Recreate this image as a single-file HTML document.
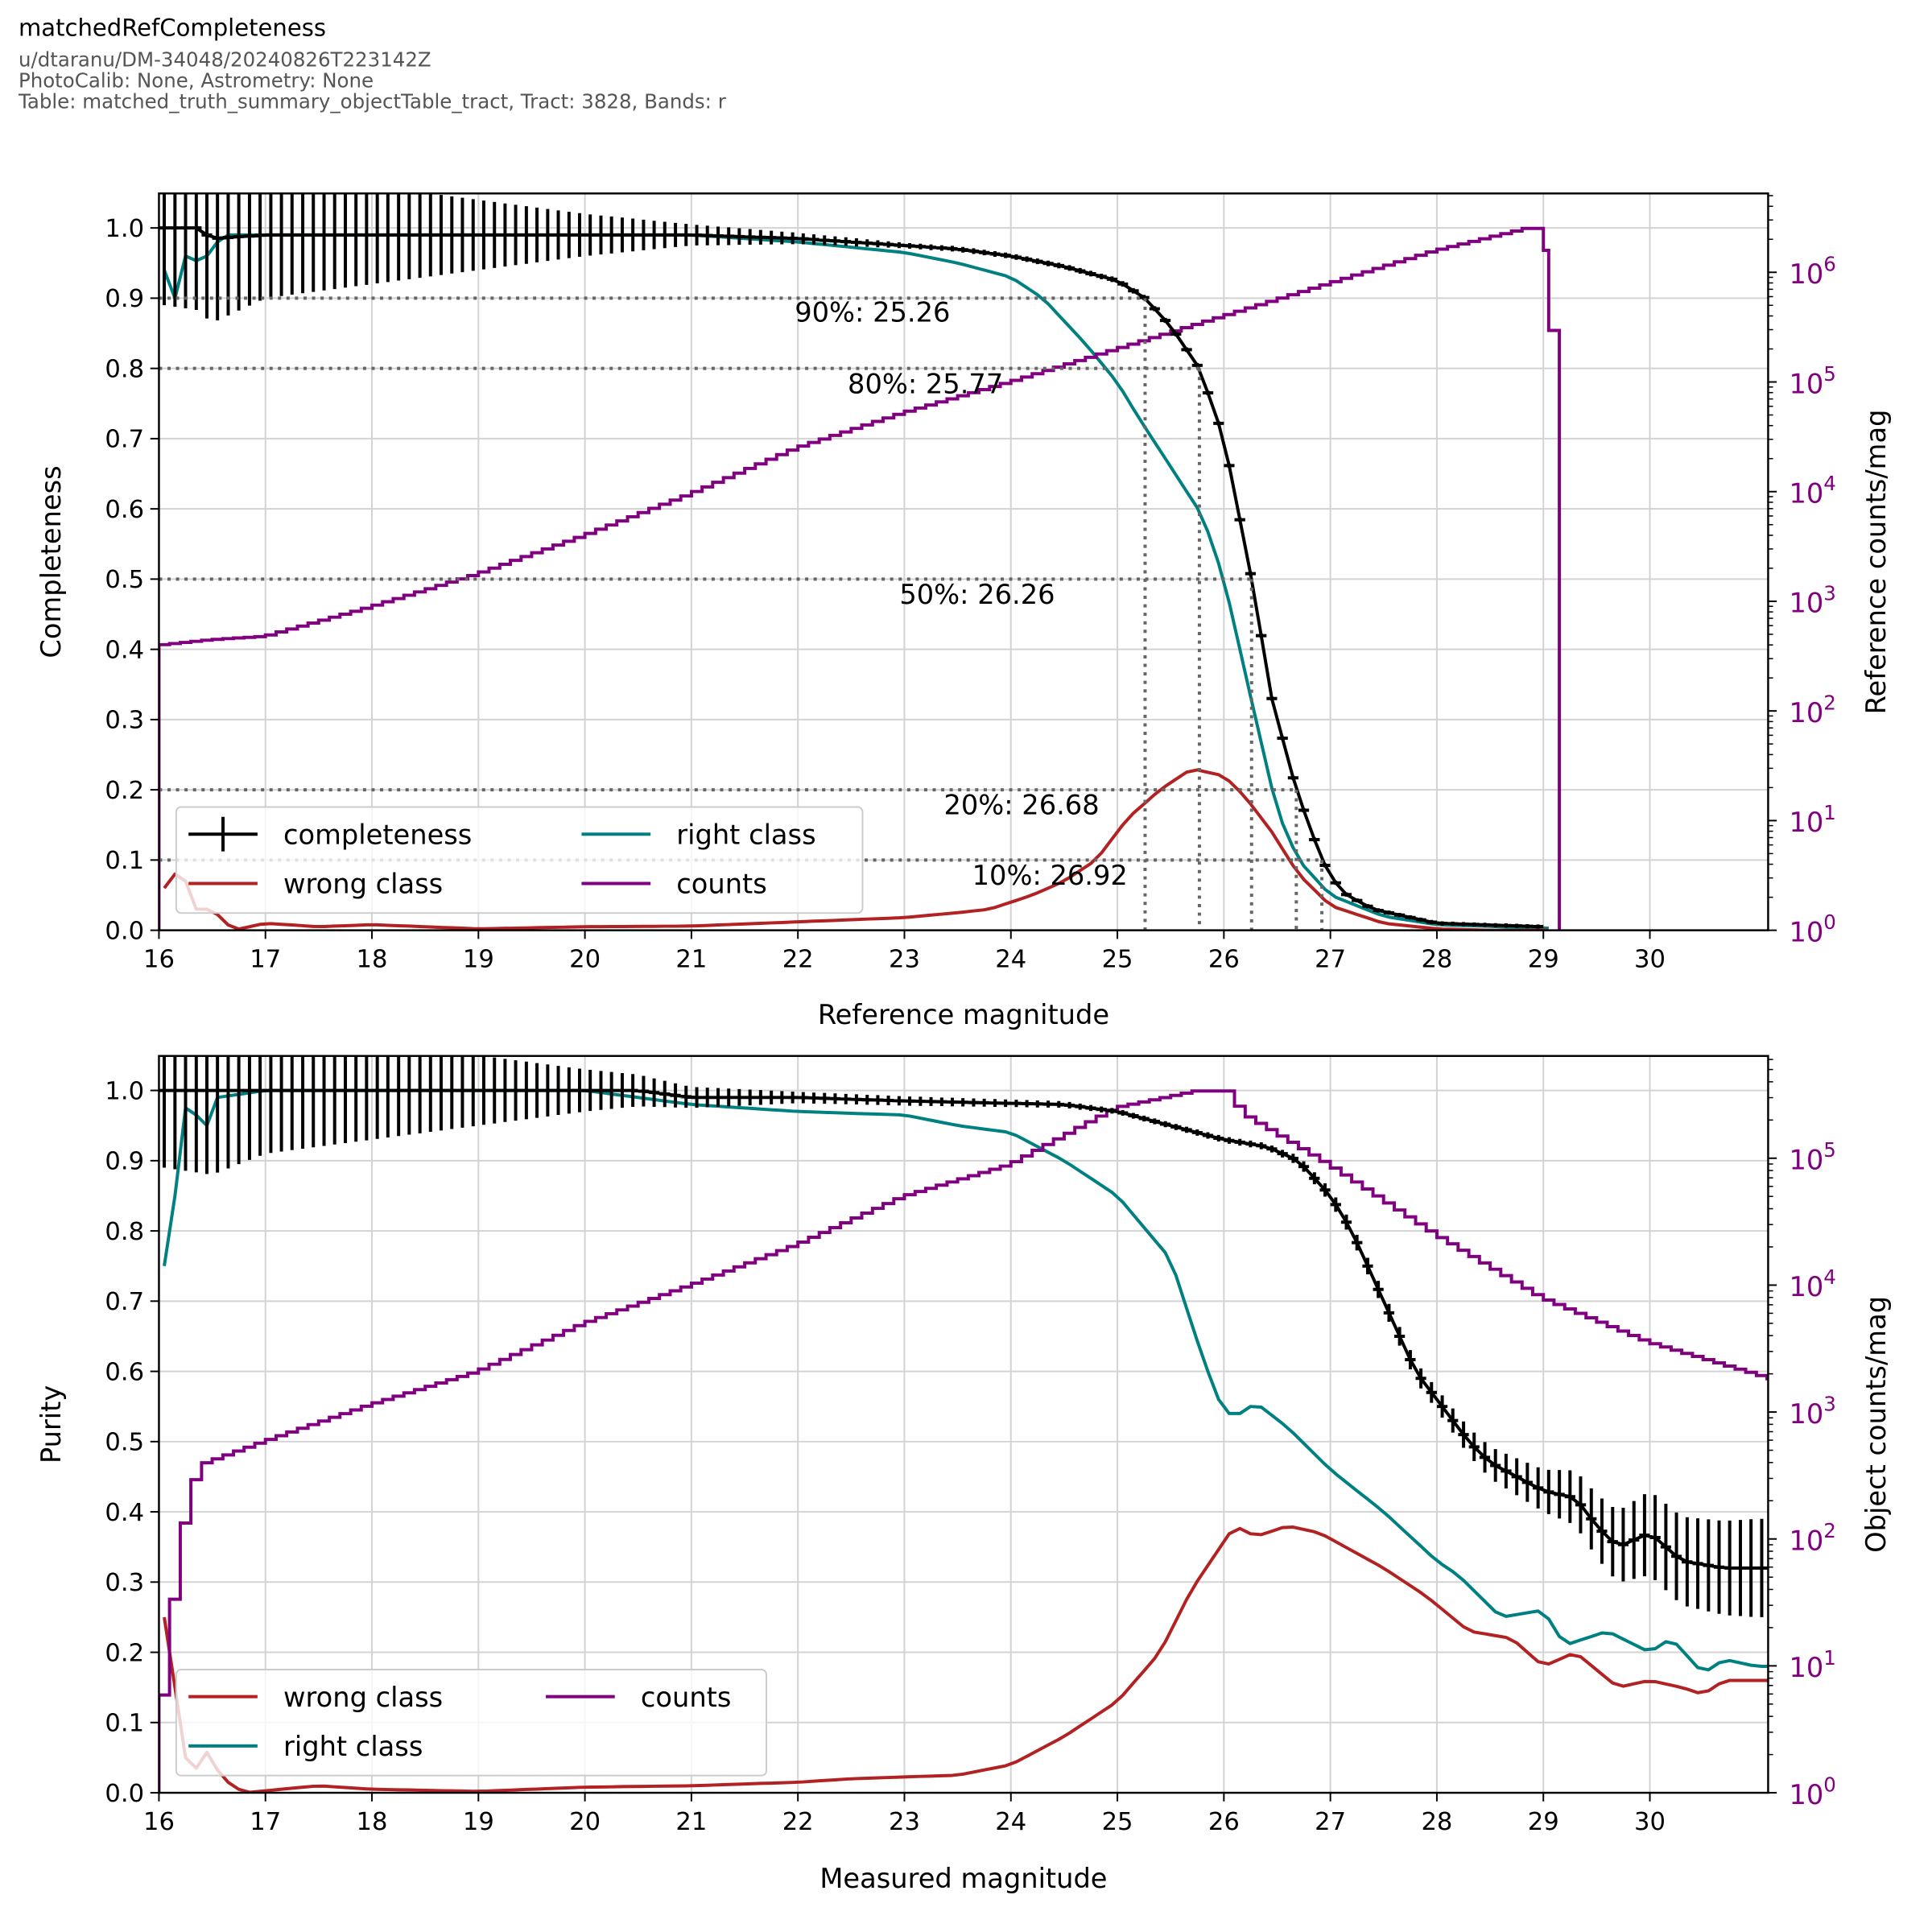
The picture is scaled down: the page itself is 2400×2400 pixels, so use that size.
<!DOCTYPE html>
<html><head><meta charset="utf-8"><style>
html,body{margin:0;padding:0;background:#fff;}
svg{display:block;font-family:"DejaVu Sans","Liberation Sans",sans-serif;}
</style></head><body>
<svg id="s" width="2400" height="2400" viewBox="0 0 1568 1568" xmlns="http://www.w3.org/2000/svg">
<defs>
<clipPath id="ct"><rect x="129" y="157" width="1306" height="598"/></clipPath>
<clipPath id="cb"><rect x="129" y="857" width="1306" height="598"/></clipPath>
</defs>
<rect width="1568" height="1568" fill="#fff"/>
<text x="15" y="29" font-size="19">matchedRefCompleteness</text>
<text x="15" y="54" font-size="16" fill="#555">u/dtaranu/DM-34048/20240826T223142Z</text>
<text x="15" y="71" font-size="16" fill="#555">PhotoCalib: None, Astrometry: None</text>
<text x="15" y="88" font-size="16" fill="#555">Table: matched_truth_summary_objectTable_tract, Tract: 3828, Bands: r</text>
<g id="grid"></g>
<g id="data"></g>
<g id="axes"></g>
<g font-size="22" fill="#000">
<text x="645" y="261">90%: 25.26</text>
<text x="688" y="319">80%: 25.77</text>
<text x="730" y="490">50%: 26.26</text>
<text x="766" y="661">20%: 26.68</text>
<text x="789" y="718">10%: 26.92</text>
</g>
<g id="legend"></g>
<g font-size="22" text-anchor="middle">
<text x="782" y="831">Reference magnitude</text>
<text x="782" y="1532">Measured magnitude</text>
<text transform="translate(49,456) rotate(-90)">Completeness</text>
<text transform="translate(49,1156) rotate(-90)">Purity</text>
<text transform="translate(1530,456) rotate(-90)">Reference counts/mag</text>
<text transform="translate(1530,1156) rotate(-90)">Object counts/mag</text>
</g>
<g id="ticklabels" font-size="20"></g>
</svg>
<script>
const NS="http://www.w3.org/2000/svg";
function el(p,t,a,txt){const e=document.createElementNS(NS,t);for(const k in a)e.setAttribute(k,a[k]);if(txt!==undefined)e.textContent=txt;document.getElementById(p).appendChild(e);return e;}
const X=m=>129+(m-16)*86.43;
const panels=[{t:157,b:755,dec:89,clip:"ct",dmax:6},{t:857,b:1455,dec:103,clip:"cb",dmax:5}];
function interp(pts,x){if(x<=pts[0][0])return pts[0][1];for(let i=1;i<pts.length;i++){if(x<=pts[i][0]){const a=pts[i-1],b=pts[i];return a[1]+(b[1]-a[1])*(x-a[0])/(b[0]-a[0]);}}return pts[pts.length-1][1];}
panels.forEach(p=>{
 for(let m=16;m<=30;m++)el("grid","line",{x1:X(m),x2:X(m),y1:p.t,y2:p.b,stroke:"#d3d3d3","stroke-width":1.3});
 for(let v=0;v<=10;v++){const y=p.b-v*57;el("grid","line",{x1:129,x2:1435,y1:y,y2:y,stroke:"#d3d3d3","stroke-width":1.3});}
});
const Y=(p,v)=>p.b-v*570;
function line(p,pts,col,w,end){end=end||31.2;let d="";const N=[];for(let m=16.05;m<end;m+=0.1)N.push(m);
 N.forEach((m,i)=>{const v=interp(pts,m);d+=(i?"L":"M")+X(m).toFixed(1)+","+Y(p,v).toFixed(1);});
 el("data","path",{d:d,fill:"none",stroke:col,"stroke-width":w,"clip-path":"url(#"+p.clip+")","stroke-linejoin":"round"});}
function counts(p,pts,start,end,extra){let d="M"+X(16)+","+p.b;let m=16;
 while(m<end-1e-6){const v=interp(pts,m+0.05);const y=p.b-v*p.dec;d+="L"+X(m).toFixed(1)+","+y.toFixed(1)+"L"+X(m+0.1).toFixed(1)+","+y.toFixed(1);m+=0.1;}
 if(extra)d+=extra;
 el("data","path",{d:d,fill:"none",stroke:"#800080","stroke-width":2.6,"clip-path":"url(#"+p.clip+")"});}
function errs(p,pts,errpts,end){let d="";let dl="";const N=[];for(let m=16.05;m<end;m+=0.1)N.push(m);
 N.forEach((m,i)=>{const v=interp(pts,m),e=interp(errpts,m);const x=X(m),y=Y(p,v);
 dl+=(i?"L":"M")+x.toFixed(1)+","+y.toFixed(1);
 d+="M"+X(m-0.05).toFixed(1)+","+y.toFixed(1)+"H"+X(m+0.05).toFixed(1);
 if(e>0.002)d+="M"+x.toFixed(1)+","+Y(p,v-e).toFixed(1)+"V"+Y(p,v+e).toFixed(1);});
 el("data","path",{d:dl+d,fill:"none",stroke:"#000","stroke-width":2.6,"clip-path":"url(#"+p.clip+")"});}
const P0=panels[0],P1=panels[1];
line(P0,[[16.05,0.94],[16.15,0.9],[16.25,0.96],[16.4,0.95],[16.6,0.99],[17,0.99],[21,0.99],[22,0.98],[23,0.965],[23.5,0.95],[24,0.93],[24.3,0.9],[24.7,0.835],[25,0.78],[25.2,0.73],[25.5,0.66],[25.8,0.59],[26,0.5],[26.15,0.4],[26.3,0.3],[26.5,0.17],[26.7,0.1],[27,0.05],[27.5,0.02],[28,0.008],[29,0.003]],"#008080",2.6,29.1);
line(P0,[[16.05,0.06],[16.2,0.09],[16.35,0.03],[16.5,0.03],[16.7,0],[17,0.01],[17.5,0.005],[18,0.008],[19,0.002],[20,0.005],[21,0.006],[22,0.012],[23,0.018],[23.5,0.025],[23.8,0.03],[24.2,0.05],[24.5,0.07],[24.8,0.1],[25.1,0.16],[25.4,0.2],[25.7,0.23],[26.0,0.22],[26.2,0.19],[26.45,0.14],[26.7,0.08],[27,0.035],[27.5,0.01],[28,0.002],[28.5,0]],"#b22222",2.6,29.1);
counts(P0,[[16,2.6],[16.5,2.65],[17,2.68],[18,2.95],[19,3.25],[20,3.6],[21,3.98],[22,4.4],[23,4.72],[24,5.0],[25,5.3],[26,5.6],[27,5.9],[28,6.2],[28.85,6.4],[29.0,6.4]],16,29.0,"L"+X(29.0)+","+(755-6.2*89)+"L"+X(29.05)+","+(755-6.2*89)+"L"+X(29.05)+","+(755-5.47*89)+"L"+X(29.15)+","+(755-5.47*89)+"L"+X(29.15)+",755");
const compl=[[16.05,1.0],[16.35,1.0],[16.5,0.985],[17,0.99],[20,0.99],[21,0.99],[22,0.985],[23,0.975],[23.5,0.97],[24,0.96],[24.5,0.945],[25,0.925],[25.26,0.9],[25.5,0.86],[25.77,0.8],[26,0.7],[26.26,0.5],[26.45,0.33],[26.68,0.2],[26.92,0.1],[27.1,0.055],[27.4,0.03],[28,0.01],[29,0.005]];
errs(P0,compl,[[16.05,0.11],[16.5,0.12],[17,0.09],[18,0.07],[19,0.05],[20,0.03],[21,0.015],[22,0.008],[23,0.004],[25,0.004],[26,0.003]],29.0);
[[25.26,0.9],[25.77,0.8],[26.26,0.5],[26.68,0.2],[26.92,0.1]].forEach(([m,v])=>{
 el("data","path",{d:"M129,"+Y(P0,v)+"H"+X(m)+"M"+X(m)+","+Y(P0,v)+"V755",fill:"none",stroke:"#666","stroke-width":2.6,"stroke-dasharray":"2.6,4.3"});});
line(P1,[[16.1,0.75],[16.2,0.95],[16.3,1.0],[16.4,0.93],[16.55,0.99],[17,1.0],[20,1.0],[21,0.98],[22,0.97],[23,0.965],[23.5,0.95],[24,0.94],[24.5,0.9],[25,0.85],[25.5,0.76],[25.8,0.62],[26,0.54],[26.15,0.54],[26.3,0.555],[26.6,0.52],[27,0.46],[27.5,0.4],[28,0.33],[28.2,0.31],[28.6,0.25],[29,0.26],[29.2,0.21],[29.6,0.23],[30,0.2],[30.2,0.22],[30.5,0.17],[30.7,0.19],[31,0.18]],"#008080",2.6);
line(P1,[[16.05,0.25],[16.2,0.1],[16.3,0],[16.4,0.07],[16.6,0.02],[16.8,0],[17.5,0.01],[18,0.005],[19,0.002],[20,0.008],[21,0.01],[22,0.015],[22.5,0.02],[23.5,0.025],[24,0.04],[24.5,0.08],[25,0.13],[25.4,0.2],[25.7,0.29],[26.1,0.38],[26.3,0.365],[26.6,0.38],[26.9,0.37],[27.5,0.32],[27.9,0.28],[28.3,0.23],[28.7,0.22],[29,0.18],[29.3,0.2],[29.7,0.15],[30,0.16],[30.3,0.15],[30.5,0.14],[30.7,0.16],[31.1,0.16]],"#b22222",2.6);
counts(P1,[[16.0,0.34],[16.1,1.2],[16.2,1.85],[16.3,2.4],[16.45,2.6],[17,2.77],[18,3.06],[19,3.32],[20,3.7],[21,4.0],[22,4.32],[23,4.7],[24,4.95],[25,5.4],[25.75,5.53],[26.05,5.53],[26.2,5.35],[26.5,5.2],[27,4.95],[28,4.4],[29,3.9],[30,3.55],[31.2,3.25]],16,31.2);
errs(P1,[[16.05,1.0],[20.5,1.0],[21,0.99],[22,0.99],[23,0.985],[24.5,0.98],[25,0.97],[25.5,0.95],[26,0.93],[26.4,0.92],[26.7,0.9],[27,0.85],[27.2,0.8],[27.5,0.7],[27.8,0.6],[28,0.56],[28.3,0.5],[28.5,0.47],[29,0.43],[29.3,0.42],[29.5,0.38],[29.7,0.35],[30,0.37],[30.3,0.33],[30.7,0.32],[31.2,0.32]],[[16.05,0.11],[16.5,0.12],[17,0.09],[18,0.07],[19,0.05],[20,0.03],[21,0.015],[22,0.008],[25,0.004],[26.5,0.005],[27,0.01],[28,0.015],[29,0.03],[30,0.06],[31,0.07]],31.2);
panels.forEach((p,pi)=>{
 el("axes","rect",{x:129,y:p.t,width:1306,height:p.b-p.t,fill:"none",stroke:"#000","stroke-width":1.6});
 for(let m=16;m<=30;m++){el("axes","line",{x1:X(m),x2:X(m),y1:p.b,y2:p.b+7,stroke:"#000","stroke-width":1.3});
  el("ticklabels","text",{x:X(m),y:p.b+30,"text-anchor":"middle"},String(m));}
 for(let v=0;v<=10;v++){const y=p.b-v*57;el("axes","line",{x1:122,x2:129,y1:y,y2:y,stroke:"#000","stroke-width":1.3});
  el("ticklabels","text",{x:117,y:y+7,"text-anchor":"end"},(v/10).toFixed(1));}
 for(let d=0;d<=p.dmax;d++){const y=p.b-d*p.dec;
  el("axes","line",{x1:1435,x2:1442,y1:y,y2:y,stroke:"#000","stroke-width":1.3});
  const t=el("ticklabels","text",{x:1452,y:y+9,fill:"#800080","font-size":22},"10");
  const s=document.createElementNS(NS,"tspan");s.setAttribute("dy","-10");s.setAttribute("font-size","16");s.textContent=String(d);t.appendChild(s);
  for(let k=2;k<=9;k++){const yy=y-Math.log10(k)*p.dec;if(yy<p.t)break;el("axes","line",{x1:1435,x2:1439,y1:yy,y2:yy,stroke:"#000","stroke-width":1});}}
});
function legend(x,y,w,h,items){el("legend","rect",{x:x,y:y,width:w,height:h,rx:4,fill:"#fff","fill-opacity":0.8,stroke:"#ccc","stroke-width":1.3});
 items.forEach(([lx,ly,col,lab,eb])=>{el("legend","line",{x1:lx,x2:lx+56,y1:ly,y2:ly,stroke:col,"stroke-width":2.6});
  if(eb)el("legend","line",{x1:lx+28,x2:lx+28,y1:ly-14,y2:ly+14,stroke:col,"stroke-width":2.6});
  el("legend","text",{x:lx+77,y:ly+8,"font-size":22},lab);});}
legend(143,655,557,86,[[153,677,"#000","completeness",1],[153,717,"#b22222","wrong class"],[472,677,"#008080","right class"],[472,717,"#800080","counts"]]);
legend(143,1355,479,86,[[153,1377,"#b22222","wrong class"],[153,1417,"#008080","right class"],[443,1377,"#800080","counts"]]);
</script>
</body></html>
